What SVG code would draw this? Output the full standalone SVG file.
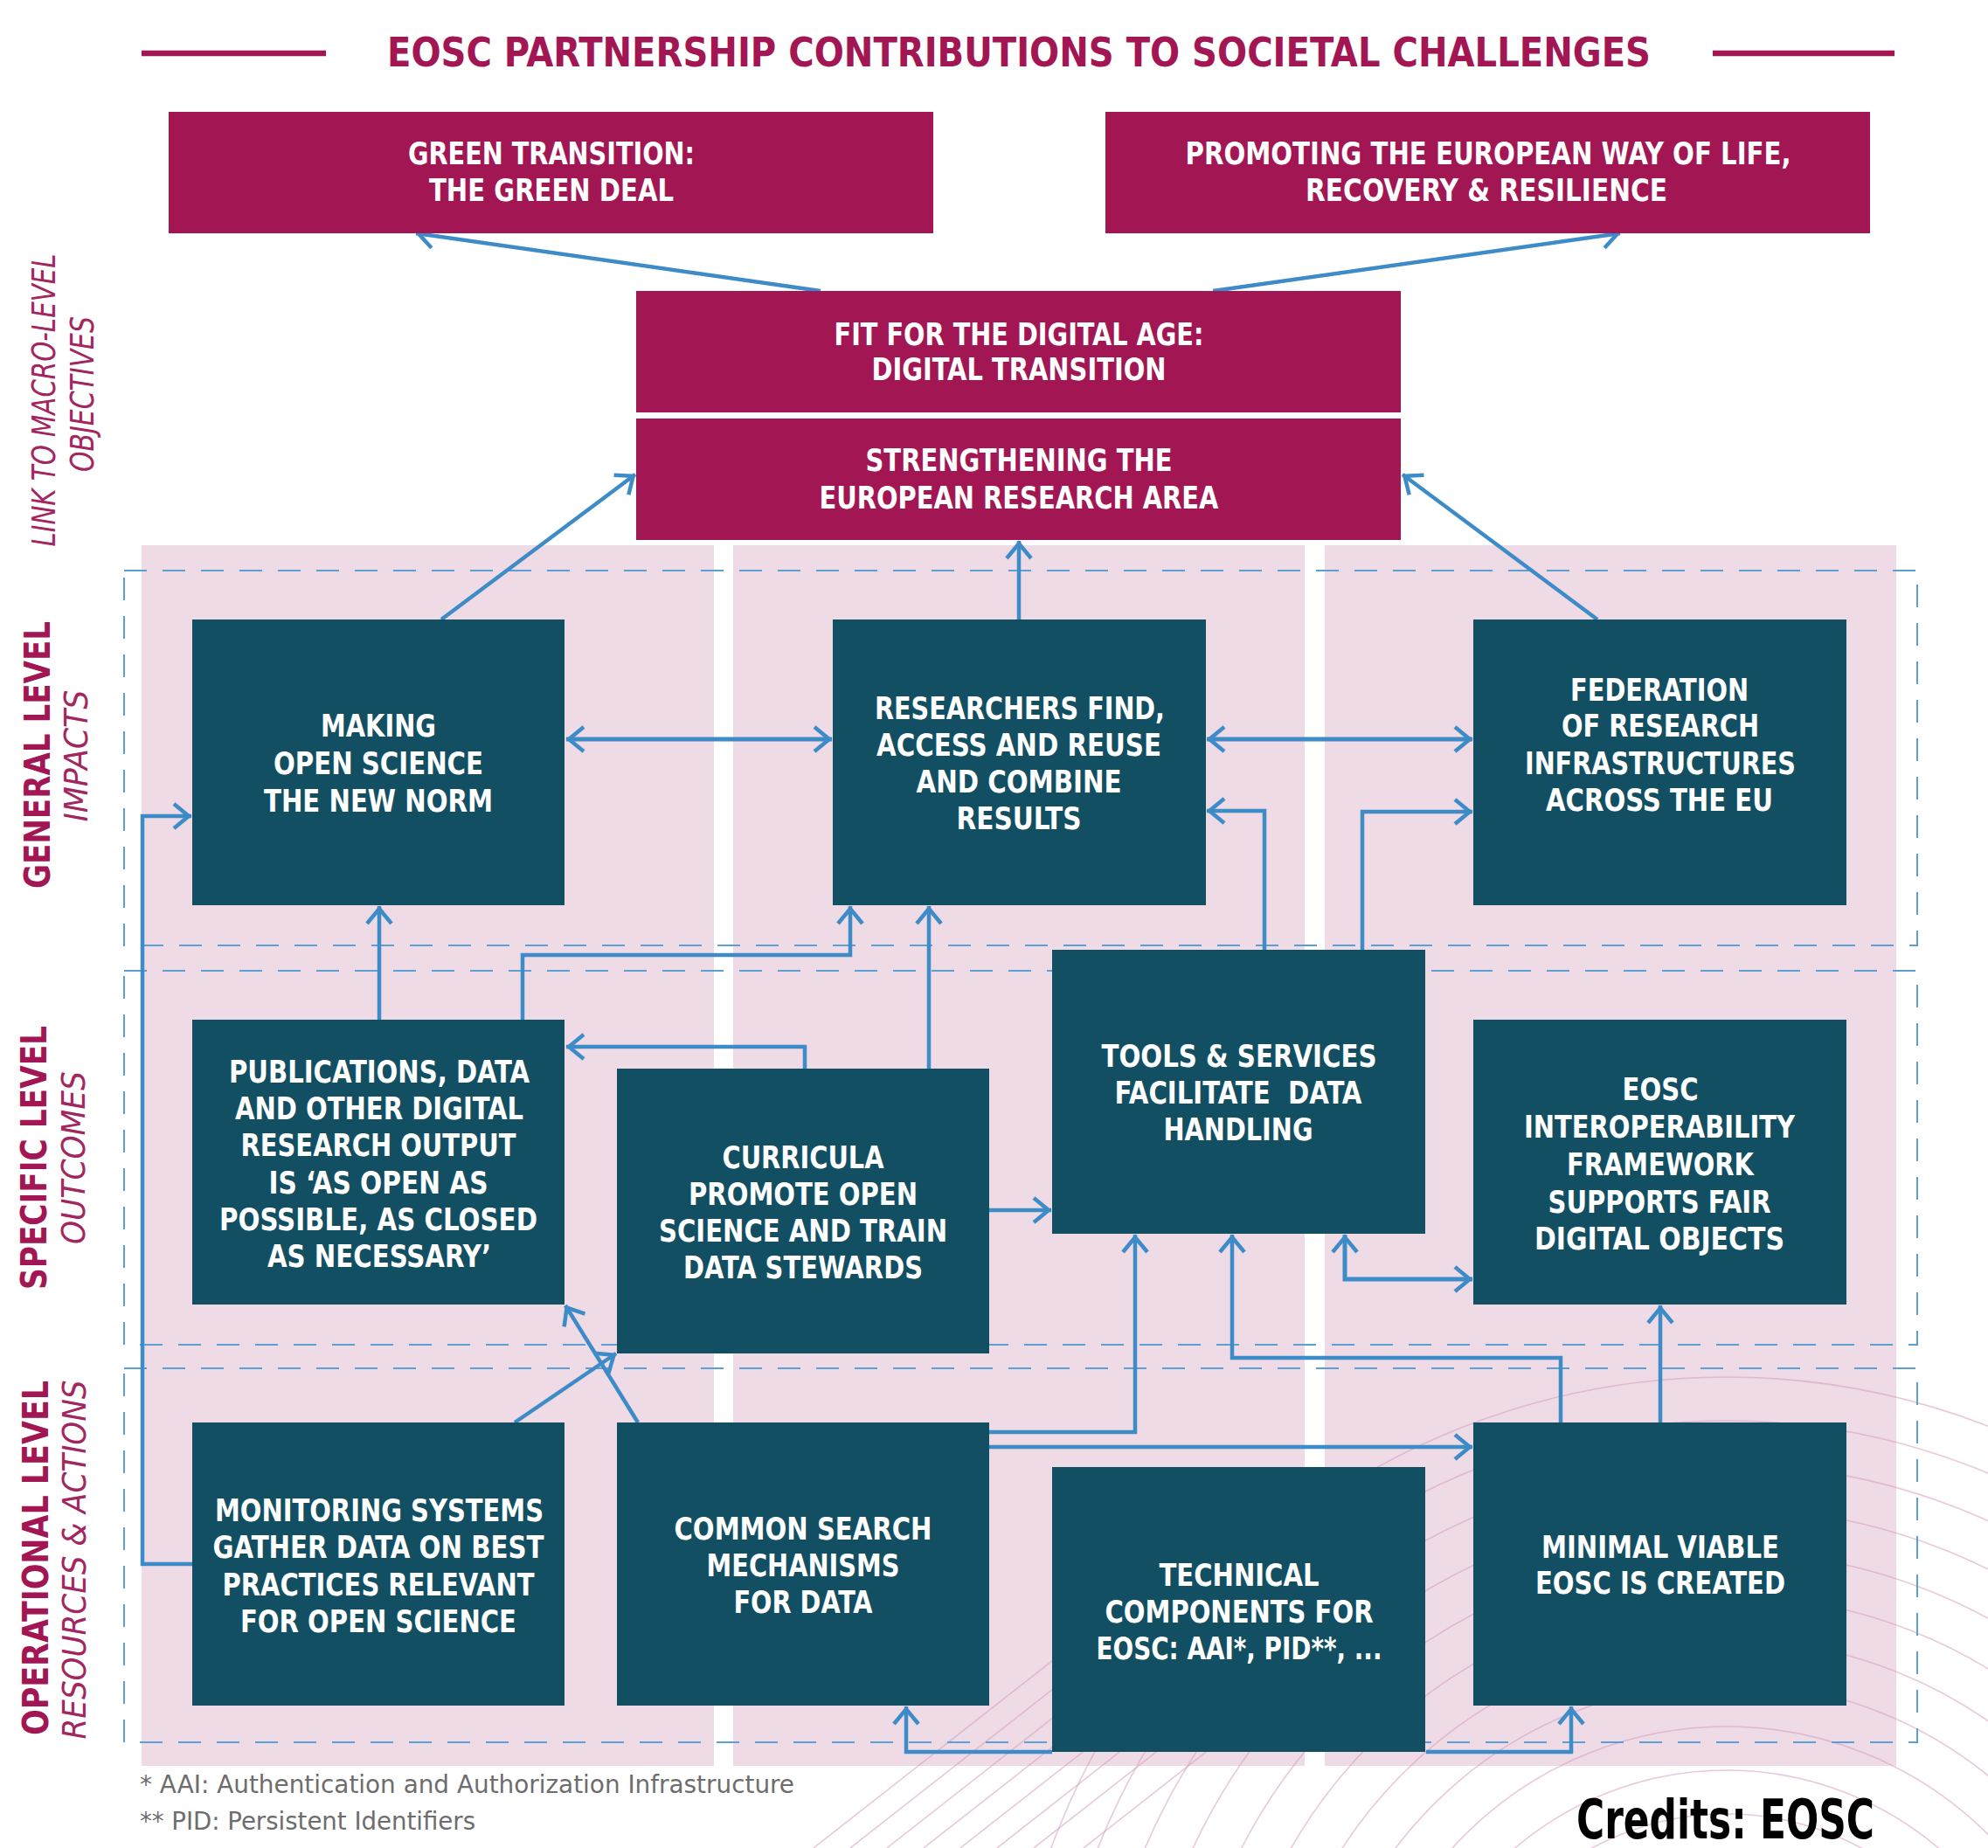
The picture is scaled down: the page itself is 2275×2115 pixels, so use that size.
<svg xmlns="http://www.w3.org/2000/svg" width="2275" height="2115" viewBox="0 0 2275 2115">
<style>
  .col{fill:#efdbe6}
  .dash{fill:none;stroke:#5b9fd3;stroke-width:2;stroke-dasharray:26 18}
  .deco{fill:none;stroke:#d49cbd;stroke-width:1.6;opacity:0.55}
  .mag rect{fill:#a11653}
  .n rect{fill:#124f62}
  .mag text,.n text{fill:#ffffff;font-family:"DejaVu Sans Condensed","DejaVu Sans",sans-serif;font-stretch:condensed;font-weight:bold;font-size:35px;text-anchor:middle}
  .c{fill:none;stroke:#3d8bc7;stroke-width:4.5;marker-end:url(#ah)}
  .c2{fill:none;stroke:#3d8bc7;stroke-width:5;marker-start:url(#ah);marker-end:url(#ah)}
  .lvl{fill:#a11653;font-family:"DejaVu Sans Condensed","DejaVu Sans",sans-serif;font-stretch:condensed;font-weight:bold;font-size:40px;text-anchor:middle}
  .sub{fill:#a3275f;font-family:"DejaVu Sans Condensed","DejaVu Sans",sans-serif;font-stretch:condensed;font-style:italic;font-size:37px;text-anchor:middle}
  .foot{fill:#6d6d6d;font-family:"DejaVu Sans Condensed","DejaVu Sans",sans-serif;font-stretch:condensed;font-size:28px}
</style>
<defs>
  <marker id="ah" viewBox="-30 -20 40 40" refX="3" refY="0" markerWidth="40" markerHeight="40" markerUnits="userSpaceOnUse" orient="auto-start-reverse">
    <path d="M-17,-14 L0,0 L-17,14" fill="none" stroke="#3d8bc7" stroke-width="4.5"/>
  </marker>
  <clipPath id="decoclip"><rect x="900" y="1540" width="1375" height="575"/></clipPath>
</defs>
<rect x="0" y="0" width="2275" height="2115" fill="#ffffff"/>

<!-- title -->
<g id="title">
  <line x1="162" y1="61" x2="373" y2="61" stroke="#a11653" stroke-width="6.5"/>
  <line x1="1960" y1="61" x2="2168" y2="61" stroke="#a11653" stroke-width="6.5"/>
  <text x="1166" y="76" textLength="1446" lengthAdjust="spacingAndGlyphs" fill="#a11653" font-family="DejaVu Sans Condensed, DejaVu Sans, sans-serif" font-weight="bold" font-size="46" text-anchor="middle">EOSC PARTNERSHIP CONTRIBUTIONS TO SOCIETAL CHALLENGES</text>
</g>

<!-- background columns -->
<g id="columns">
  <rect class="col" x="162" y="624" width="655" height="1397"/>
  <rect class="col" x="839" y="624" width="654" height="1397"/>
  <rect class="col" x="1516" y="624" width="654" height="1397"/>
</g>

<!-- decorative pattern -->
<g id="pattern" clip-path="url(#decoclip)">
  <circle class="deco" cx="1976" cy="2400" r="274"/>
  <circle class="deco" cx="1976" cy="2400" r="324"/>
  <circle class="deco" cx="1976" cy="2400" r="374"/>
  <circle class="deco" cx="1976" cy="2400" r="424"/>
  <circle class="deco" cx="1976" cy="2400" r="474"/>
  <circle class="deco" cx="1976" cy="2400" r="524"/>
  <circle class="deco" cx="1976" cy="2400" r="574"/>
  <circle class="deco" cx="1976" cy="2400" r="624"/>
  <circle class="deco" cx="1976" cy="2400" r="674"/>
  <circle class="deco" cx="1976" cy="2400" r="724"/>
  <circle class="deco" cx="1976" cy="2400" r="774"/>
  <circle class="deco" cx="1976" cy="2400" r="824"/>
  <line class="deco" x1="931" y1="2115" x2="1321" y2="1809"/>
  <line class="deco" x1="973" y1="2115" x2="1363" y2="1809"/>
  <line class="deco" x1="1015" y1="2115" x2="1405" y2="1809"/>
  <line class="deco" x1="1057" y1="2115" x2="1447" y2="1809"/>
  <line class="deco" x1="1099" y1="2115" x2="1489" y2="1809"/>
  <line class="deco" x1="1141" y1="2115" x2="1531" y2="1809"/>
  <line class="deco" x1="1183" y1="2115" x2="1573" y2="1809"/>
  <line class="deco" x1="1240" y1="2115" x2="1630" y2="1809"/>
</g>

<!-- level frames -->
<g id="frames">
  <rect class="dash" x="142" y="653" width="2052" height="429"/>
  <rect class="dash" x="142" y="1111" width="2052" height="428"/>
  <rect class="dash" x="142" y="1566" width="2052" height="428"/>
</g>

<!-- side labels -->
<g id="side-labels">
  <text class="sub" transform="translate(63,458) rotate(-90)" font-size="31" textLength="335" lengthAdjust="spacingAndGlyphs">LINK TO MACRO-LEVEL</text>
  <text class="sub" transform="translate(107,451) rotate(-90)" font-size="31" textLength="178" lengthAdjust="spacingAndGlyphs">OBJECTIVES</text>
  <text class="lvl" transform="translate(57,864) rotate(-90)" textLength="306" lengthAdjust="spacingAndGlyphs">GENERAL LEVEL</text>
  <text class="sub" transform="translate(100,865) rotate(-90)" textLength="151" lengthAdjust="spacingAndGlyphs">IMPACTS</text>
  <text class="lvl" transform="translate(53,1325) rotate(-90)" textLength="302" lengthAdjust="spacingAndGlyphs">SPECIFIC LEVEL</text>
  <text class="sub" transform="translate(97,1325) rotate(-90)" textLength="198" lengthAdjust="spacingAndGlyphs">OUTCOMES</text>
  <text class="lvl" transform="translate(55,1783) rotate(-90)" textLength="406" lengthAdjust="spacingAndGlyphs">OPERATIONAL LEVEL</text>
  <text class="sub" transform="translate(98,1785) rotate(-90)" textLength="411" lengthAdjust="spacingAndGlyphs">RESOURCES &amp; ACTIONS</text>
</g>

<!-- connectors -->
<g id="connectors">
  <path class="c" d="M939,333 L476,267"/>
  <path class="c" d="M1388,333 L1854,267"/>
  <path class="c" d="M505,709 L727,543"/>
  <path class="c" d="M1166,709 L1166,619"/>
  <path class="c" d="M1828,709 L1605,543"/>
  <path class="c2" d="M648,846 L952,846"/>
  <path class="c2" d="M1381,846 L1685,846"/>
  <path class="c" d="M1447,1087 L1447,928 L1381,928"/>
  <path class="c" d="M1559,1087 L1559,929 L1685,929"/>
  <path class="c" d="M434,1167 L434,1037"/>
  <path class="c" d="M598,1167 L598,1093 L973,1093 L973,1037"/>
  <path class="c" d="M921,1223 L921,1198 L648,1198"/>
  <path class="c" d="M1063,1223 L1063,1037"/>
  <path class="c" d="M1132,1385 L1203,1385"/>
  <path class="c" d="M220,1790 L163,1790 L163,934 L219,934"/>
  <path class="c" d="M589,1628 L705,1549"/>
  <path class="c" d="M730,1628 L647,1494"/>
  <path class="c" d="M1132,1639 L1299,1639 L1299,1413"/>
  <path class="c" d="M1132,1656 L1685,1656"/>
  <path class="c" d="M1786,1628 L1786,1554 L1410,1554 L1410,1413"/>
  <path class="c2" d="M1539,1413 L1539,1464 L1685,1464"/>
  <path class="c" d="M1900,1628 L1900,1494"/>
  <path class="c" d="M1204,2005 L1037,2005 L1037,1953"/>
  <path class="c" d="M1632,2005 L1798,2005 L1798,1953"/>
</g>

<!-- macro objectives -->
<g id="green-transition" class="mag">
  <rect x="193" y="128" width="875" height="139"/>
  <text x="631" y="188" textLength="328" lengthAdjust="spacingAndGlyphs">GREEN TRANSITION:</text>
  <text x="631" y="230" textLength="280" lengthAdjust="spacingAndGlyphs">THE GREEN DEAL</text>
</g>
<g id="european-way" class="mag">
  <rect x="1265" y="128" width="875" height="139"/>
  <text x="1703" y="188" textLength="693" lengthAdjust="spacingAndGlyphs">PROMOTING THE EUROPEAN WAY OF LIFE,</text>
  <text x="1701" y="230" textLength="414" lengthAdjust="spacingAndGlyphs">RECOVERY &amp; RESILIENCE</text>
</g>
<g id="digital-age" class="mag">
  <rect x="728" y="333" width="875" height="139"/>
  <text x="1166" y="395" textLength="423" lengthAdjust="spacingAndGlyphs">FIT FOR THE DIGITAL AGE:</text>
  <text x="1166" y="435" textLength="337" lengthAdjust="spacingAndGlyphs">DIGITAL TRANSITION</text>
</g>
<g id="era" class="mag">
  <rect x="728" y="479" width="875" height="139"/>
  <text x="1166" y="539" textLength="351" lengthAdjust="spacingAndGlyphs">STRENGTHENING THE</text>
  <text x="1166" y="582" textLength="457" lengthAdjust="spacingAndGlyphs">EUROPEAN RESEARCH AREA</text>
</g>

<!-- general level -->
<g id="open-science-norm" class="n">
  <rect x="220" y="709" width="426" height="327"/>
  <text x="433" y="843" textLength="132" lengthAdjust="spacingAndGlyphs">MAKING</text>
  <text x="433" y="886" textLength="240" lengthAdjust="spacingAndGlyphs">OPEN SCIENCE</text>
  <text x="433" y="929" textLength="262" lengthAdjust="spacingAndGlyphs">THE NEW NORM</text>
</g>
<g id="researchers-find" class="n">
  <rect x="953" y="709" width="427" height="327"/>
  <text x="1167" y="823" textLength="332" lengthAdjust="spacingAndGlyphs">RESEARCHERS FIND,</text>
  <text x="1166" y="865" textLength="326" lengthAdjust="spacingAndGlyphs">ACCESS AND REUSE</text>
  <text x="1166" y="907" textLength="235" lengthAdjust="spacingAndGlyphs">AND COMBINE</text>
  <text x="1166" y="949" textLength="143" lengthAdjust="spacingAndGlyphs">RESULTS</text>
</g>
<g id="federation" class="n">
  <rect x="1686" y="709" width="427" height="327"/>
  <text x="1899" y="802" textLength="204" lengthAdjust="spacingAndGlyphs">FEDERATION</text>
  <text x="1900" y="843" textLength="226" lengthAdjust="spacingAndGlyphs">OF RESEARCH</text>
  <text x="1900" y="886" textLength="310" lengthAdjust="spacingAndGlyphs">INFRASTRUCTURES</text>
  <text x="1899" y="928" textLength="260" lengthAdjust="spacingAndGlyphs">ACROSS THE EU</text>
</g>

<!-- specific level -->
<g id="publications" class="n">
  <rect x="220" y="1167" width="426" height="326"/>
  <text x="434" y="1239" textLength="344" lengthAdjust="spacingAndGlyphs">PUBLICATIONS, DATA</text>
  <text x="434" y="1281" textLength="330" lengthAdjust="spacingAndGlyphs">AND OTHER DIGITAL</text>
  <text x="433" y="1323" textLength="315" lengthAdjust="spacingAndGlyphs">RESEARCH OUTPUT</text>
  <text x="433" y="1366" textLength="251" lengthAdjust="spacingAndGlyphs">IS ‘AS OPEN AS</text>
  <text x="433" y="1408" textLength="364" lengthAdjust="spacingAndGlyphs">POSSIBLE, AS CLOSED</text>
  <text x="434" y="1450" textLength="256" lengthAdjust="spacingAndGlyphs">AS NECESSARY’</text>
</g>
<g id="curricula" class="n">
  <rect x="706" y="1223" width="426" height="326"/>
  <text x="919" y="1337" textLength="185" lengthAdjust="spacingAndGlyphs">CURRICULA</text>
  <text x="919" y="1379" textLength="262" lengthAdjust="spacingAndGlyphs">PROMOTE OPEN</text>
  <text x="919" y="1421" textLength="330" lengthAdjust="spacingAndGlyphs">SCIENCE AND TRAIN</text>
  <text x="919" y="1463" textLength="274" lengthAdjust="spacingAndGlyphs">DATA STEWARDS</text>
</g>
<g id="tools-services" class="n">
  <rect x="1204" y="1087" width="427" height="325"/>
  <text x="1418" y="1221" textLength="315" lengthAdjust="spacingAndGlyphs">TOOLS &amp; SERVICES</text>
  <text x="1417" y="1263" textLength="283" lengthAdjust="spacingAndGlyphs" xml:space="preserve">FACILITATE  DATA</text>
  <text x="1417" y="1305" textLength="171" lengthAdjust="spacingAndGlyphs">HANDLING</text>
</g>
<g id="interoperability" class="n">
  <rect x="1686" y="1167" width="427" height="326"/>
  <text x="1900" y="1259" textLength="87" lengthAdjust="spacingAndGlyphs">EOSC</text>
  <text x="1899" y="1302" textLength="310" lengthAdjust="spacingAndGlyphs">INTEROPERABILITY</text>
  <text x="1900" y="1345" textLength="214" lengthAdjust="spacingAndGlyphs">FRAMEWORK</text>
  <text x="1899" y="1388" textLength="255" lengthAdjust="spacingAndGlyphs">SUPPORTS FAIR</text>
  <text x="1899" y="1430" textLength="286" lengthAdjust="spacingAndGlyphs">DIGITAL OBJECTS</text>
</g>

<!-- operational level -->
<g id="monitoring" class="n">
  <rect x="220" y="1628" width="426" height="324"/>
  <text x="434" y="1741" textLength="376" lengthAdjust="spacingAndGlyphs">MONITORING SYSTEMS</text>
  <text x="433" y="1783" textLength="379" lengthAdjust="spacingAndGlyphs">GATHER DATA ON BEST</text>
  <text x="433" y="1826" textLength="357" lengthAdjust="spacingAndGlyphs">PRACTICES RELEVANT</text>
  <text x="433" y="1868" textLength="316" lengthAdjust="spacingAndGlyphs">FOR OPEN SCIENCE</text>
</g>
<g id="common-search" class="n">
  <rect x="706" y="1628" width="426" height="324"/>
  <text x="919" y="1762" textLength="295" lengthAdjust="spacingAndGlyphs">COMMON SEARCH</text>
  <text x="919" y="1804" textLength="221" lengthAdjust="spacingAndGlyphs">MECHANISMS</text>
  <text x="919" y="1846" textLength="159" lengthAdjust="spacingAndGlyphs">FOR DATA</text>
</g>
<g id="technical-components" class="n">
  <rect x="1204" y="1679" width="427" height="326"/>
  <text x="1418" y="1815" textLength="183" lengthAdjust="spacingAndGlyphs">TECHNICAL</text>
  <text x="1418" y="1857" textLength="307" lengthAdjust="spacingAndGlyphs">COMPONENTS FOR</text>
  <text x="1418" y="1899" textLength="327" lengthAdjust="spacingAndGlyphs">EOSC: AAI*, PID**, ...</text>
</g>
<g id="minimal-viable" class="n">
  <rect x="1686" y="1628" width="427" height="324"/>
  <text x="1900" y="1783" textLength="272" lengthAdjust="spacingAndGlyphs">MINIMAL VIABLE</text>
  <text x="1900" y="1824" textLength="286" lengthAdjust="spacingAndGlyphs">EOSC IS CREATED</text>
</g>

<!-- footnotes and credits -->
<g id="footnotes">
  <text class="foot" x="160" y="2052" textLength="749" lengthAdjust="spacingAndGlyphs">* AAI: Authentication and Authorization Infrastructure</text>
  <text class="foot" x="160" y="2094" textLength="384" lengthAdjust="spacingAndGlyphs">** PID: Persistent Identifiers</text>
  <text x="1804" y="2104" textLength="341" lengthAdjust="spacingAndGlyphs" fill="#000000" font-family="DejaVu Sans Condensed, DejaVu Sans, sans-serif" font-weight="bold" font-size="62">Credits: EOSC</text>
</g>
</svg>
